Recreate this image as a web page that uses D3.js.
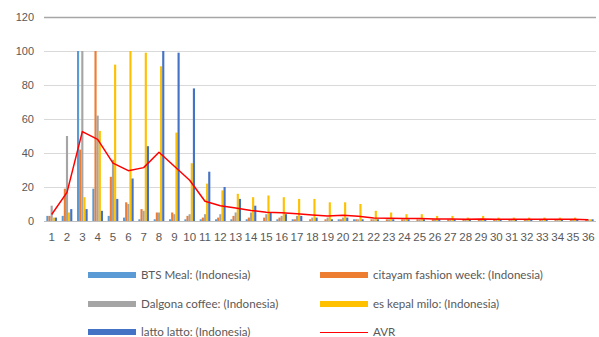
<!DOCTYPE html>
<html>
<head>
<meta charset="utf-8">
<script src="https://cdn.jsdelivr.net/npm/d3@7"></script>
<style>
  html, body { margin: 0; padding: 0; background: #fff; }
  svg { display: block; }
</style>
</head>
<body>
<div id="chart"></div>
<script>
// Weekly search interest (0-100) for five Indonesian viral trends
const weeks = d3.range(1, 37).map(String);

const btsMeal   = [3, 3, 100, 19, 3, 2, 1, 1, 1, 1, 1, 1, 1, 1, 0, 1, 1, 0, 0, 1, 1, 0, 0, 0, 0, 0, 0, 0, 0, 0, 0, 0, 0, 0, 0, 0];
const citayam   = [3, 19, 42, 100, 26, 11, 7, 5, 5, 3, 2, 2, 3, 2, 2, 2, 1, 1, 1, 1, 1, 1, 1, 1, 1, 1, 1, 1, 1, 1, 1, 1, 1, 1, 1, 1];
const dalgona   = [9, 50, 100, 62, 36, 10, 6, 5, 4, 4, 4, 4, 5, 5, 4, 3, 3, 2, 2, 2, 1, 1, 1, 1, 1, 1, 1, 1, 1, 1, 1, 1, 1, 1, 1, 1];
const esKepal   = [2, 5, 14, 53, 92, 100, 99, 91, 52, 34, 22, 18, 16, 14, 15, 14, 13, 13, 11, 11, 10, 6, 5, 4, 4, 3, 3, 2, 3, 2, 2, 2, 2, 2, 2, 1];
const lattoLatto= [2, 7, 7, 6, 13, 25, 44, 100, 99, 78, 29, 20, 13, 9, 5, 4, 3, 2, 1, 2, 1, 1, 1, 1, 1, 1, 1, 1, 1, 1, 1, 1, 1, 1, 1, 1];
const avr       = [3.8, 16.8, 52.6, 48, 34, 29.6, 31.4, 40.4, 32.2, 24, 11.6, 9, 7.6, 6.2, 5.2, 4.8, 4.2, 3.6, 3, 3.4, 2.8, 1.8, 1.6, 1.4, 1.4, 1.2, 1.2, 1, 1.2, 1, 1, 1, 1, 1, 1, 0.8];

const yTicks = [0, 20, 40, 60, 80, 100, 120];

const seriesNames  = ["BTS Meal: (Indonesia)", "citayam fashion week: (Indonesia)", "Dalgona coffee: (Indonesia)", "es kepal milo: (Indonesia)", "latto latto: (Indonesia)"];
const seriesValues = [btsMeal, citayam, dalgona, esKepal, lattoLatto];
const seriesColors = ["#5B9BD5", "#ED7D31", "#A5A5A5", "#FFC000", "#4472C4"];
const avrName = "AVR";
const avrColor = "#FF0000";

const W = 599, H = 337;
const plot = { left: 44, right: 596, top: 17, bottom: 221 };

const svg = d3.select("#chart").append("svg")
  .attr("width", W).attr("height", H)
  .style("font-family", "'Liberation Sans', Arial, sans-serif");

svg.append("rect").attr("width", W).attr("height", H).attr("fill", "#fff");

const x = d3.scaleBand().domain(weeks).range([plot.left, plot.right]).paddingInner(0).paddingOuter(0);
const y = d3.scaleLinear().domain([0, 120]).range([plot.bottom, plot.top]);

// Excel-style grouping: gap width ~219% of a bar
const barW = x.bandwidth() / (seriesValues.length + 2.19);
const groupW = barW * seriesValues.length;
const xInner = d3.scaleBand().domain(d3.range(seriesValues.length)).range([0, groupW]).padding(0);

// gridlines
svg.append("g")
  .selectAll("line")
  .data(yTicks)
  .join("line")
  .attr("x1", plot.left).attr("x2", plot.right)
  .attr("y1", d => Math.round(y(d)) + 0.5).attr("y2", d => Math.round(y(d)) + 0.5)
  .attr("stroke", d => d === 120 ? "#A6A6A6" : (d === 0 ? "#BFBFBF" : "#D9D9D9"))
  .attr("stroke-width", d => d === 120 ? 1.3 : 1);

// y axis labels
const yAxis = d3.axisLeft(y).tickValues(yTicks).tickSize(0).tickPadding(0);
const gy = svg.append("g").attr("transform", `translate(${plot.left - 10},0)`).call(yAxis);
gy.select(".domain").remove();
gy.selectAll("text").attr("fill", "#595959").style("font-size", "11px").style("font-family", "'Liberation Sans', Arial, sans-serif");

// x axis labels
const xAxis = d3.axisBottom(x).tickSize(0).tickPadding(0);
const gx = svg.append("g").attr("transform", `translate(0,${plot.bottom + 12})`).call(xAxis);
gx.select(".domain").remove();
gx.selectAll("text").attr("fill", "#595959").style("font-size", "11.5px").style("font-family", "'Liberation Sans', Arial, sans-serif");

// bars
seriesValues.forEach((vals, si) => {
  svg.append("g")
    .selectAll("rect")
    .data(vals)
    .join("rect")
    .attr("x", (d, i) => x(weeks[i]) + (x.bandwidth() - groupW) / 2 + xInner(si))
    .attr("width", xInner.bandwidth())
    .attr("y", d => y(d))
    .attr("height", d => y(0) - y(d))
    .attr("fill", seriesColors[si]);
});

// average line
const line = d3.line()
  .x((d, i) => x(weeks[i]) + x.bandwidth() / 2)
  .y(d => y(d));
svg.append("path")
  .datum(avr)
  .attr("d", line)
  .attr("fill", "none")
  .attr("stroke", avrColor)
  .attr("stroke-width", 1.5)
  .attr("stroke-linejoin", "round");

// legend
const legendItems = seriesNames.map((n, i) => ({ name: n, color: seriesColors[i], type: "bar" }))
  .concat([{ name: avrName, color: avrColor, type: "line" }]);
const colX = [88, 320];
const rowY = [275, 304, 332];
const lg = svg.append("g").style("font-family", "Lato, 'Liberation Sans', sans-serif").style("font-size", "11.6px");
legendItems.forEach((it, i) => {
  const cx = colX[i % 2], cy = rowY[Math.floor(i / 2)];
  if (it.type === "bar") {
    lg.append("rect").attr("x", cx).attr("y", cy - 3).attr("width", 48).attr("height", 6).attr("fill", it.color);
  } else {
    lg.append("line").attr("x1", cx).attr("x2", cx + 48).attr("y1", cy + 0.5).attr("y2", cy + 0.5)
      .attr("stroke", it.color).attr("stroke-width", 1);
  }
  lg.append("text").attr("x", cx + 53).attr("y", cy).attr("dy", "0.35em")
    .attr("fill", "#595959").text(it.name);
});
</script>
</body>
</html>
